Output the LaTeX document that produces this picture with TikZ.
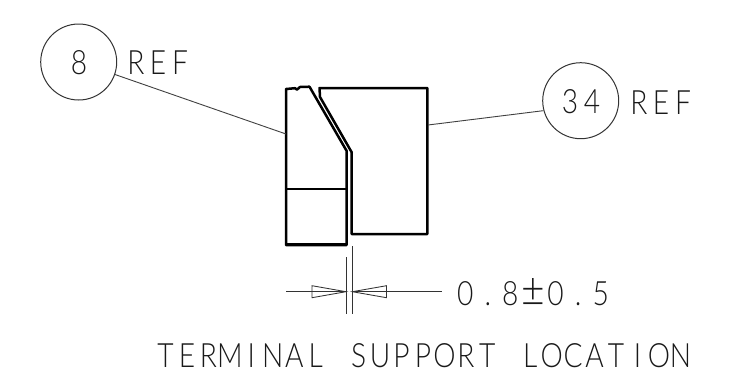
\documentclass[tikz,border=0pt]{standalone}
\usepackage{fontspec}
\newfontfamily\cadfont[FakeStretch=0.84]{Lato Light}
\newdimen\cadpitch
\def\cadloop#1{\ifx#1\relax\else\hbox to \cadpitch{\hss#1\hss}\expandafter\cadloop\fi}
\newcommand{\cadtext}[2]{\cadpitch=#1\relax\hbox{\cadloop#2\relax}}
\newcommand{\cadpm}{\raisebox{-0.5pt}{\scalebox{1.45}{±}}}
\tikzset{
  heavy/.style={line width=2.5pt,line join=round,line cap=round,black},
  thin line/.style={line width=0.9pt,black!75},
  dim line/.style={line width=0.85pt,black!80},
  balloon/.style={circle,draw=black!80,line width=1pt,minimum size=76pt,inner sep=0pt},
  cad/.style={inner sep=0pt,outer sep=0pt,text=black!90,font=\cadfont\fontsize{33.5}{34}\selectfont,anchor=center},
}
\begin{document}
\begin{tikzpicture}[x=1pt,y=-1pt]
\useasboundingbox (0,0) rectangle (731,384);
\fill[white] (0,0) rectangle (731,384);
% balloons
\node[balloon] (b8) at (78.7,62) {};
\node[balloon] (b34) at (580.7,100.7) {};
\node[cad] (t8) at (79,62.5) {8};
\node[cad] (t34) at (581,102) {\cadtext{22pt}{34}};
\node[cad] (r8) at (158,62.5) {\cadtext{22pt}{REF}};
\node[cad] (r34) at (661,103) {\cadtext{22pt}{REF}};
% part outlines
\coordinate (lb1) at (286,245);
\coordinate (lt1) at (286,89);
\coordinate (lr) at (346.7,245);
\coordinate (lk) at (346.7,151);
\draw[heavy] (lb1) -- (lt1) -- (295,88.2) -- (297,89.6) -- (300,87) -- (309.5,86.7) -- (lk) -- (lr) -- cycle;
\draw[line width=3.6pt,black] (286,244.5) -- (346.7,244.5);
\draw[line width=1.9pt,black] (286,189) -- (346.7,189);
\coordinate (rt1) at (319.5,88);
\coordinate (rt2) at (427.3,88);
\coordinate (rb2) at (427.3,234);
\coordinate (rb1) at (351.7,234);
\coordinate (rk) at (351.7,152.3);
\draw[heavy] (rt1) -- (rt2) -- (rb2) -- (rb1) -- (rk) -- (320,97) -- cycle;
% leaders
\coordinate (a8) at (286,134);
\coordinate (a34) at (428,125);
\draw[thin line] (b8.-19) -- (a8);
\draw[thin line] (b34.195) -- (a34);
% dimension
\coordinate (d1t) at (346.3,257);
\coordinate (d1b) at (346.3,314);
\coordinate (d2t) at (352,246);
\coordinate (d2b) at (352,314);
\draw[dim line] (d1t) -- (d1b);
\draw[dim line] (d2t) -- (d2b);
\coordinate (dl) at (286,291.7);
\coordinate (dr) at (442,291.7);
\draw[dim line] (dl) -- (d1t |- dl);
\draw[dim line] (d2t |- dr) -- (dr);
\draw[dim line,fill=white] (312,285.7) -- (346,291.7) -- (312,297.7) -- cycle;
\draw[dim line,fill=white] (386.5,285.7) -- (352.3,291.7) -- (386.5,297.7) -- cycle;
\draw[dim line] (312,291.7) -- (346,291.7);
\draw[dim line] (352.3,291.7) -- (386.5,291.7);
\node[cad] (dimt) at (533,292) {\cadtext{22.6pt}{0.8\cadpm 0.5}};
\node[cad] (cap) at (423,355.5) {\cadtext{21.45pt}{TERMINAL~SUPPORT~LOCATION}};
\end{tikzpicture}
\end{document}
